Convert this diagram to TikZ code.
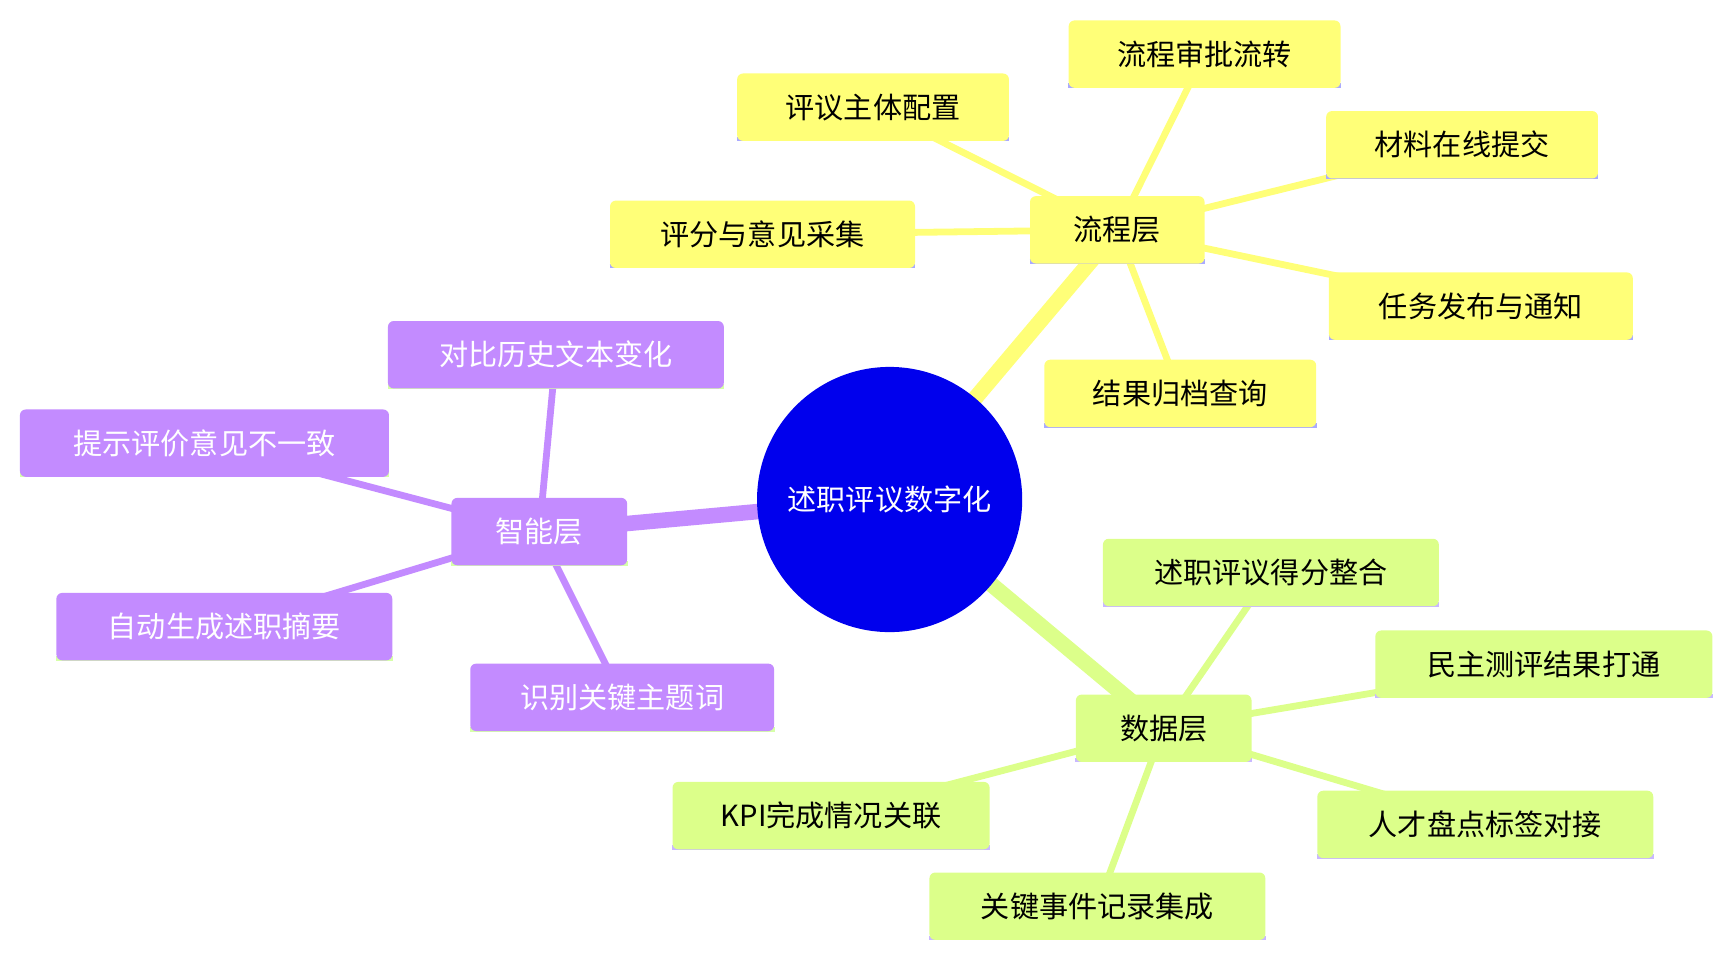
\documentclass[tikz,border=0pt]{standalone}
\usepackage{fontspec}
\setmainfont{Noto Sans CJK SC}
\usetikzlibrary{backgrounds}
\definecolor{cY}{HTML}{FFFF78}
\definecolor{cP}{HTML}{C38BFF}
\definecolor{cG}{HTML}{DCFF8A}
\definecolor{lineY}{HTML}{AAAAFF}
\definecolor{lineP}{HTML}{D6FFA8}
\definecolor{lineG}{HTML}{C9B8FF}
\begin{document}
\begin{tikzpicture}[x=0.02cm,y=-0.02cm,
 base/.style={rounded corners=3pt,minimum height=1.22cm,font=\fontsize{15}{18}\selectfont,inner sep=0pt},
 ynode/.style={base,fill=cY,text=black,append after command={\pgfextra{\draw[lineY,line width=2.5pt] ([yshift=1.2pt]\tikzlastnode.south west)--([yshift=1.2pt]\tikzlastnode.south east);}}},
 pnode/.style={base,fill=cP,text=white,append after command={\pgfextra{\draw[lineP,line width=2.5pt] ([yshift=1.2pt]\tikzlastnode.south west)--([yshift=1.2pt]\tikzlastnode.south east);}}},
 gnode/.style={base,fill=cG,text=black,append after command={\pgfextra{\draw[lineG,line width=2.5pt] ([yshift=1.2pt]\tikzlastnode.south west)--([yshift=1.2pt]\tikzlastnode.south east);}}},
 thick edge/.style={line width=8pt},
 leaf edge/.style={line width=3.5pt}]
\useasboundingbox (0,0) rectangle (1560,864);
\node[circle,fill=blue!93!black,minimum size=4.8cm,text=white,font=\fontsize{15}{18}\selectfont] (c) at (805,452) {述职评议数字化};
% process layer
\node[ynode,minimum width=3.16cm] (p) at (1011,208) {流程层};
\node[ynode,minimum width=4.92cm] (p1) at (790,97) {评议主体配置};
\node[ynode,minimum width=4.92cm] (p2) at (1090,49) {流程审批流转};
\node[ynode,minimum width=4.92cm] (p3) at (1323,131) {材料在线提交};
\node[ynode,minimum width=5.52cm] (p4) at (690,212) {评分与意见采集};
\node[ynode,minimum width=5.5cm] (p5) at (1340,277) {任务发布与通知};
\node[ynode,minimum width=4.92cm] (p6) at (1068,356) {结果归档查询};
% smart layer
\node[pnode,minimum width=3.18cm] (s) at (488,481) {智能层};
\node[pnode,minimum width=6.08cm] (s1) at (503,321) {对比历史文本变化};
\node[pnode,minimum width=6.68cm] (s2) at (185,401) {提示评价意见不一致};
\node[pnode,minimum width=6.08cm] (s3) at (203,567) {自动生成述职摘要};
\node[pnode,minimum width=5.5cm] (s4) at (563,631) {识别关键主题词};
% data layer
\node[gnode,minimum width=3.18cm] (d) at (1053,659) {数据层};
\node[gnode,minimum width=6.08cm] (d1) at (1150,518) {述职评议得分整合};
\node[gnode,minimum width=6.1cm] (d2) at (1397,601) {民主测评结果打通};
\node[gnode,minimum width=6.08cm] (d3) at (1344,746) {人才盘点标签对接};
\node[gnode,minimum width=5.74cm] (d4) at (752,738) {KPI完成情况关联};
\node[gnode,minimum width=6.08cm] (d5) at (993,820) {关键事件记录集成};
\begin{scope}[on background layer]
\draw[cY,thick edge] (c.center)--(p.center);
\draw[cP,thick edge] (c.center)--(s.center);
\draw[cG,thick edge] (c.center)--(d.center);
\foreach \n in {p1,p2,p3,p4,p5,p6} \draw[cY,leaf edge] (p.center)--(\n.center);
\foreach \n in {s1,s2,s3,s4} \draw[cP,leaf edge] (s.center)--(\n.center);
\foreach \n in {d1,d2,d3,d4,d5} \draw[cG,leaf edge] (d.center)--(\n.center);
\end{scope}
\end{tikzpicture}
\end{document}
